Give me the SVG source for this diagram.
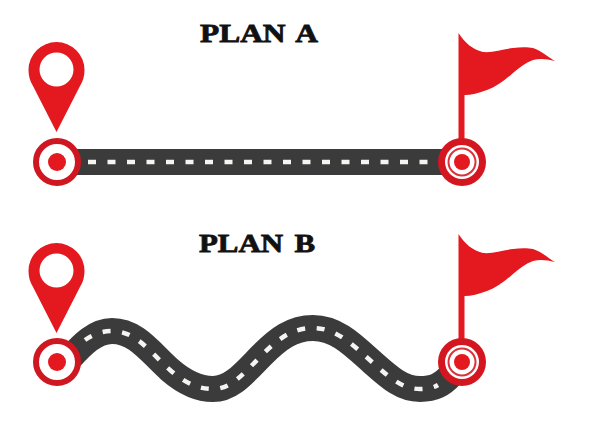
<svg xmlns="http://www.w3.org/2000/svg" xmlns:xlink="http://www.w3.org/1999/xlink" width="609" height="428" viewBox="0 0 609 428">
<style>
.title{font-family:"Liberation Serif",serif;font-weight:700;font-size:26px;word-spacing:3px;fill:#111;stroke:#111;stroke-width:.8px}
.road{fill:none;stroke:#3b3b3b;stroke-width:26}
.dash{fill:none;stroke:#f4f4f0;stroke-width:4.500;stroke-dasharray:8 11.500}
.red{fill:#e4181f}
.ring{fill:#fff;stroke:#cf1721;stroke-width:6}
.thin{fill:none;stroke:#d9323a;stroke-width:2}
</style>
<defs>
<path id="pinShape" fill-rule="evenodd" d="M56.500 132L33 86C30 81 28.500 76 28.500 70A28 28 0 0 1 84.500 70C84.500 76 83 81 80 86ZM56.500 52.500A17 17 0 1 0 56.500 86.500A17 17 0 1 0 56.500 52.500Z"/>
<path id="flagShape" d="M458.500 33C465 43 472 49 483 52C493 53 503 49 513 48C520 47 528 47 533 48C542 51 548 57 555 61C547 59 540 58 533 60C525 63 519 68 513 73C505 80 496 87 487 90C479 93 471 95 464.500 95L464.500 145L458.500 145Z"/>
<g id="startMark"><circle class="ring" cx="57" cy="162" r="21"/><circle class="red" cx="57" cy="162" r="9"/></g>
<g id="endMark"><circle cx="462" cy="162" r="24" fill="#d3161f"/><circle cx="462" cy="162" r="17" fill="#fff"/><circle class="thin" cx="462" cy="162" r="13.500"/><circle class="red" cx="462" cy="162" r="8"/></g>
</defs>
<rect width="609" height="428" fill="#fff"/>
<g id="connectors">
<path id="roadA" class="road" d="M70 162H450"/>
<path class="dash" d="M88 162H428"/>
<path id="roadB" class="road" d="M70 358C82 345 95 331 112 331C136 331 150 352 170 370C185 383 198 389 213 389C232 389 245 372 262 355C278 339 292 328 313 328C336 328 352 344 372 362C390 378 402 389 420 389C434 389 442 385 452 374"/>
<path class="dash" d="M85 340C92 335 101 331 112 331C136 331 150 352 170 370C185 383 198 389 213 389C232 389 245 372 262 355C278 339 292 328 313 328C336 328 352 344 372 362C390 378 402 389 420 389C427 389 433 388 438 385"/>
</g>
<g id="planA-title"><text class="title" x="200" y="42" textLength="118" lengthAdjust="spacingAndGlyphs">PLAN A</text></g>
<g id="planB-title"><text class="title" x="199" y="252" textLength="116" lengthAdjust="spacingAndGlyphs">PLAN B</text></g>
<g id="planA-pin"><use xlink:href="#pinShape" class="red"/></g>
<g id="planA-start"><use xlink:href="#startMark"/></g>
<g id="planA-flag"><use xlink:href="#flagShape" class="red"/></g>
<g id="planA-end"><use xlink:href="#endMark"/></g>
<g id="planB-pin"><use xlink:href="#pinShape" class="red" y="201"/></g>
<g id="planB-start"><use xlink:href="#startMark" y="200"/></g>
<g id="planB-flag"><use xlink:href="#flagShape" class="red" y="201"/></g>
<g id="planB-end"><use xlink:href="#endMark" y="200"/></g>
</svg>
